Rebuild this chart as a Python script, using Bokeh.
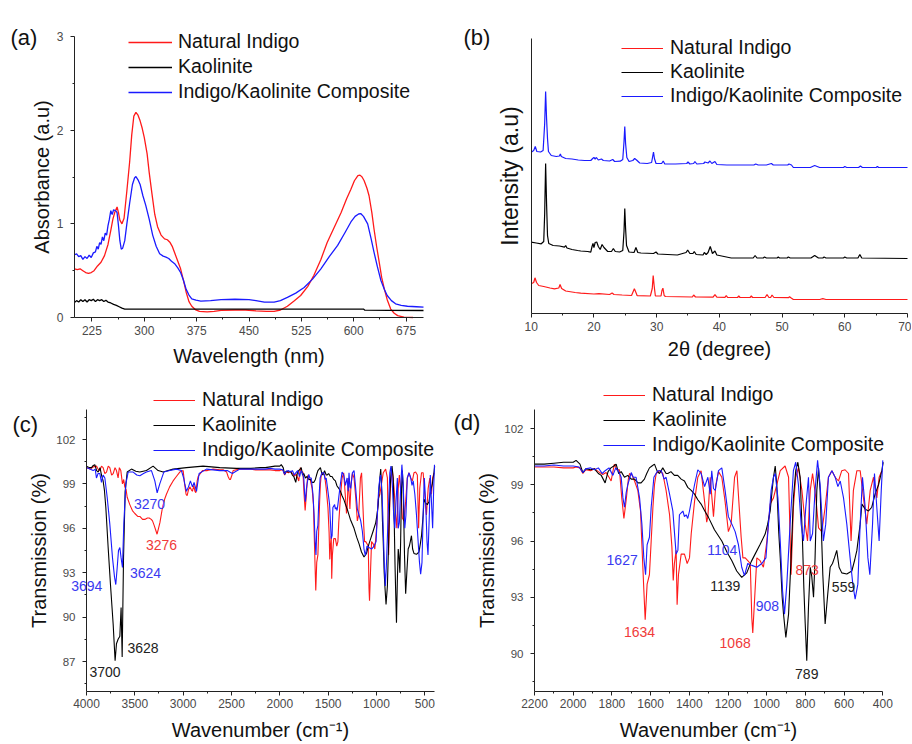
from bokeh.plotting import figure
from bokeh.models import Range1d, FixedTicker, Legend, LegendItem, Label
from bokeh.layouts import column, row
from bokeh.embed import file_html
from bokeh.resources import INLINE

FONT = "Liberation Sans"
RED, BLACK, BLUE = "#ff1a1a", "#000000", "#1a1aff"
series_names = ["Natural Indigo", "Kaolinite", "Indigo/Kaolinite Composite"]

# ---------------- (a) UV-Vis absorbance ----------------
uv_red = [(200,0.52),(204,0.51),(208,0.52),(212,0.50),(216,0.48),(220,0.47),(224,0.48),(228,0.50),(233,0.55),
          (238,0.59),(243,0.66),(248,0.78),(252,0.93),(255,1.05),(258,1.13),(261,1.18),(263,1.12),(265,1.04),
          (268,1.00),(271,1.06),(275,1.35),(279,1.66),(282,1.95),(285,2.15),(288,2.19),(291,2.16),(294,2.10),
          (297,2.02),(300,1.92),(304,1.75),(307,1.55),(311,1.32),(315,1.10),(319,0.97),(324,0.88),(329,0.84),
          (333,0.83),(337,0.80),(340,0.76),(344,0.68),(348,0.60),(352,0.52),(356,0.40),(360,0.27),(364,0.17),
          (368,0.12),(373,0.085),(379,0.065),(390,0.06),(400,0.065),(410,0.075),(430,0.08),(445,0.08),(460,0.07),
          (475,0.065),(486,0.065),(495,0.08),(505,0.12),(515,0.18),(524,0.235),(534,0.33),(543,0.45),(553,0.62),
          (562,0.80),(572,0.96),(582,1.12),(590,1.27),(596,1.37),(601,1.46),(606,1.515),(609,1.52),(612,1.50),
          (615,1.46),(619,1.38),(622,1.30),(626,1.12),(629,0.95),(633,0.75),(637,0.57),(640,0.43),(644,0.30),
          (648,0.19),(653,0.09),(658,0.045),(663,0.02),(672,0.005),(685,0.0)]
uv_black = [(200,0.16),(203,0.18),(206,0.165),(209,0.19),(212,0.17),(215,0.19),(218,0.165),(221,0.19),(224,0.18),
            (227,0.195),(230,0.17),(233,0.19),(236,0.18),(239,0.19),(242,0.17),(245,0.185),(248,0.165),(252,0.155),
            (256,0.14),(260,0.13),(264,0.115),(268,0.10),(272,0.09),(300,0.09),(400,0.09),(500,0.09),(600,0.09),
            (614,0.09),(616,0.078),(650,0.077),(700,0.075)]
uv_blue = [(200,0.67),(203,0.68),(206,0.65),(209,0.66),(212,0.62),(215,0.65),(218,0.63),(221,0.665),(224,0.64),
           (227,0.69),(230,0.70),(232,0.76),(234,0.73),(236,0.80),(238,0.78),(240,0.86),(242,0.82),(244,0.90),
           (246,0.88),(248,0.98),(250,1.05),(252,1.14),(254,1.10),(256,1.15),(259,1.14),(261,1.12),(263,0.98),
           (265,0.82),(267,0.73),(269,0.74),(272,0.82),(275,1.00),(279,1.22),(283,1.42),(286,1.49),(288,1.505),
           (291,1.47),(294,1.42),(298,1.30),(302,1.20),(307,1.05),(312,0.88),(317,0.76),(322,0.68),(327,0.655),
           (331,0.645),(335,0.63),(339,0.60),(344,0.57),(348,0.53),(352,0.48),(356,0.40),(360,0.30),(364,0.24),
           (368,0.20),(374,0.185),(381,0.175),(395,0.18),(410,0.19),(430,0.195),(450,0.19),(460,0.18),(472,0.165),
           (486,0.165),(495,0.18),(505,0.215),(517,0.26),(529,0.32),(541,0.41),(553,0.52),(565,0.65),(577,0.77),
           (587,0.90),(596,1.02),(602,1.08),(607,1.105),(610,1.11),(614,1.08),(617,1.04),(620,1.0),(625,0.84),
           (629,0.70),(634,0.54),(639,0.395),(644,0.30),(648,0.235),(654,0.18),(660,0.146),(668,0.13),(677,0.12),
           (690,0.115),(700,0.11)]
uv_xticks = [225, 300, 375, 450, 525, 600, 675]
uv_yticks = [0, 1, 2, 3]

# ---------------- (b) XRD ----------------
xrd_red = [(10.0,29.7),(10.4,31),(10.6,35.7),(10.85,31),(11.2,28),(12,27),(13,25.5),(13.7,24.7),(14.4,25.5),(14.6,29),
           (14.85,25),(15.5,22.5),(17.0,21),(17.9,20.3),(20,19.5),(20.8,19.8),(22.5,19),(22.9,20.5),(23.2,19),
           (24.5,18.5),(26.0,18),(26.2,21),(26.45,24.7),(26.7,21),(26.9,17.8),(29.0,17.5),(29.3,25),(29.45,38),
           (29.6,28),(29.8,17.5),(30.7,17.5),(30.85,23),(31.0,25.3),(31.2,18),(31.4,17),(35.7,16.5),(35.9,18.5),
           (36.2,16.5),(39.0,16.3),(39.3,18.8),(39.6,16.3),(40.9,16.2),(41.1,18),(41.3,16.2),(42.9,16),(43.1,17.5),
           (43.3,16),(44.9,16),(45.1,17.5),(45.3,16),(47.3,16),(47.6,19),(47.9,16),(48.2,16.2),(48.4,18.5),(48.7,16),
           (51.0,15.8),(51.2,16.8),(51.4,15.8),(51.8,14),(56,14),(56.5,14.8),(57,14),(60,14),(70,14)]
xrd_black = [(10.0,71.3),(10.8,70.5),(11.6,69.7),(12.0,72),(12.15,100),(12.3,150),(12.45,110),(12.6,78),(12.8,70),
             (13.5,68),(14.5,67.5),(15.3,66.3),(15.5,68),(15.7,65.5),(16.5,64),(17.4,63),(17.9,62.5),(19.0,62),
             (19.5,61.3),(19.7,67),(19.85,70),(20.0,66),(20.2,71),(20.45,71.5),(20.7,67),(21.0,64),(21.3,69),
             (21.6,66),(22.2,62),(22.8,62),(23.1,65),(23.4,62),(24.1,61.5),(24.6,63),(24.8,82),(24.92,105),
             (25.05,85),(25.2,68),(25.6,61.5),(26.4,61),(26.7,66),(27.0,61),(27.5,60.5),(29.5,60),(29.9,61.5),
             (30.2,59.5),(33.3,58.5),(34.7,61),(34.95,63.5),(35.3,60),(35.8,60),(36.0,62),(36.3,59),(37.4,58.5),
             (37.6,61),(37.9,59),(38.2,61),(38.55,67),(38.9,60),(39.3,62.5),(39.6,58.5),(41.9,55.5),(45.4,55.5),
             (45.7,58),(46.0,55.5),(47.0,55.5),(47.2,56.5),(47.5,55.5),(49.2,55.5),(49.4,56.5),(49.6,55.5),
             (50.8,55.5),(51.0,56.5),(51.3,55.5),(54.6,55.5),(55.2,58),(55.8,55.5),(56.5,55.5),(56.7,56.5),(57,55.5),
             (59.8,55.5),(60.0,56.5),(60.3,55.5),(62.1,55.5),(62.4,59),(62.7,55.5),(70,55)]
xrd_blue = [(10.0,161.3),(10.4,163),(10.65,167),(10.9,162),(11.5,161.5),(11.9,163),(12.15,190),(12.3,222),(12.45,195),
            (12.6,175),(12.75,162),(13.2,158),(14.0,157),(14.5,157.5),(14.65,159.5),(14.8,157),(15.5,155),(16.5,154.5),
            (17.5,153.5),(18.5,153),(19.5,153),(19.8,155),(20.0,156),(20.2,154.5),(20.4,156),(20.7,153.5),(21.2,154.5),
            (21.5,153),(22.5,152.5),(23.0,154),(23.3,152),(24.2,152.3),(24.6,154),(24.8,172),(24.92,187),(25.05,170),
            (25.25,156),(25.6,152),(26.2,153),(26.5,155),(26.8,153.5),(27.3,150.5),(28.5,150),(29.2,151),(29.4,158),
            (29.5,161.3),(29.65,155),(29.9,150),(30.8,150),(31.05,152.5),(31.3,149.5),(33,149.5),(34.8,150),
            (35.0,151.5),(35.3,149.5),(35.9,150),(36.1,152),(36.4,149.5),(37.5,150),(37.7,151.5),(38.2,150.5),
            (38.5,152.5),(38.8,150),(39.3,152),(39.6,149),(41.2,148.5),(45.5,148.5),(45.8,149.5),(46.2,148.5),
            (47.5,148.5),(48.3,150),(48.6,148.5),(50.9,148.5),(51.1,149.5),(51.5,148.5),(51.8,146),(54.5,146),
            (55.2,148),(56,146),(59.8,146),(60.0,147),(60.3,146),(62.2,146),(62.5,147.5),(62.8,146),(65,146),
            (65.2,147),(65.4,146),(70,146)]
xrd_xticks = [10, 20, 30, 40, 50, 60, 70]

# ---------------- (c)/(d) FTIR transmission ----------------
ir_red = [(4000,100.1),(3960,100.0),(3930,100.15),(3897,100.2),(3880,100.0),(3862,99.9),(3845,100.2),(3828,100.1),
          (3810,99.7),(3793,99.8),(3775,100.2),(3759,100.1),(3740,99.6),(3724,99.7),(3705,100.1),(3690,99.9),
          (3673,99.4),(3660,100.1),(3645,99.9),(3628,99.0),(3615,99.3),(3604,98.8),(3590,98.6),(3579,98.1),
          (3552,97.6),(3525,97.2),(3500,97.0),(3470,96.8),(3448,96.8),(3420,96.6),(3397,96.6),(3370,96.7),
          (3352,96.7),(3330,96.6),(3317,96.5),(3300,96.2),(3285,95.9),(3270,95.6),(3255,96.0),(3240,96.4),
          (3214,97.4),(3190,98.0),(3173,98.3),(3140,98.8),(3104,99.2),(3070,99.5),(3035,99.8),(3000,99.9),
          (2985,99.0),(2970,98.3),(2959,98.2),(2945,98.6),(2931,98.8),(2915,98.6),(2904,98.5),(2890,98.9),
          (2878,98.5),(2869,98.4),(2855,99.2),(2845,99.5),(2800,99.9),(2750,99.9),(2690,100.0),(2620,99.95),
          (2587,99.95),(2550,99.8),(2535,99.5),(2520,99.3),(2511,99.3),(2495,99.6),(2483,99.9),(2420,100.0),
          (2380,100.0),(2300,100.0),(2250,99.95),(2200,99.95),(2150,99.95),(2100,99.95),(2050,99.9),(2000,99.9),
          (1985,99.95),(1965,99.9),(1950,99.6),(1935,99.8),(1910,99.75),(1890,99.85),(1870,99.7),(1847,99.55),
          (1830,99.65),(1815,99.4),(1804,99.2),(1795,99.7),(1787,100.1),(1775,99.8),(1761,99.8),(1749,98.3),
          (1738,97.2),(1726,98.2),(1715,99.3),(1709,99.6),(1695,99.5),(1683,99.2),(1666,98.7),(1652,97.6),
          (1645,95.8),(1635,93.4),(1628,91.8),(1618,93.7),(1606,94.2),(1597,96.0),(1588,97.8),(1580,99.0),
          (1571,99.6),(1554,99.75),(1537,99.6),(1520,98.7),(1502,97.4),(1490,95.7),(1483,93.9),(1477,94.8),
          (1468,95.5),(1463,92.6),(1456,94.2),(1442,95.3),(1425,95.3),(1411,94.8),(1399,95.1),(1390,96.4),
          (1373,98.1),(1356,99.4),(1339,99.75),(1321,98.1),(1310,97.0),(1304,97.3),(1292,99.4),(1275,97.3),
          (1263,99.0),(1249,99.7),(1232,99.4),(1215,98.1),(1198,96.5),(1184,96.9),(1166,99.4),(1154,99.75),
          (1142,97.8),(1132,96.2),(1123,95.1),(1111,95.1),(1098,94.95),(1085,94.8),(1077,91.9),(1072,91.1),
          (1063,92.8),(1051,95.1),(1034,94.95),(1017,94.6),(999,96.0),(982,97.97),(965,98.3),(948,99.0),
          (930,99.75),(905,100.0),(887,99.4),(874,94.2),(862,97.8),(850,99.4),(836,99.9),(818,98.7),(801,96.9),
          (789,96.0),(775,98.7),(763,99.6),(746,98.3),(732,96.7),(715,96.5),(698,97.8),(681,99.4),(663,99.75),
          (646,99.4),(629,99.2),(612,99.75),(595,99.8),(577,99.6),(564,96.0),(552,98.7),(534,99.75),(517,99.75),
          (500,98.3),(483,96.9),(465,98.7),(448,99.4),(431,98.3),(419,99.4),(405,99.75)]
ir_black = [(4000,100.2),(3970,100.1),(3948,100.1),(3930,100.25),(3914,100.3),(3895,99.9),(3879,99.8),(3860,100.1),
            (3845,99.6),(3828,99.2),(3815,98.6),(3800,97.4),(3776,94.7),(3752,92.2),(3724,89.5),(3704,87.05),
            (3690,88.2),(3673,88.5),(3655,88.7),(3642,90.65),(3631,87.3),(3617,94.0),(3600,98.5),(3579,99.8),
            (3535,100.0),(3490,99.85),(3448,99.8),(3380,99.9),(3311,100.2),(3259,99.9),(3207,99.8),(3104,100.0),
            (2966,100.1),(2794,100.2),(2621,100.1),(2449,100.05),(2300,100.05),(2200,100.1),(2150,100.1),
            (2100,100.15),(2050,100.2),(2000,100.2),(1985,100.3),(1965,100.1),(1950,99.65),(1935,99.85),(1910,99.8),
            (1890,99.85),(1870,99.6),(1855,99.5),(1845,99.3),(1835,99.1),(1820,99.7),(1805,99.9),(1790,100.0),
            (1778,100.1),(1765,99.6),(1752,99.7),(1735,99.4),(1718,99.5),(1700,99.3),(1683,99.3),(1665,99.1),
            (1649,99.1),(1632,99.3),(1620,99.6),(1606,99.9),(1593,100.0),(1580,100.1),(1565,99.7),(1554,99.6),
            (1537,99.9),(1520,99.6),(1511,99.6),(1495,99.7),(1477,99.5),(1460,99.5),(1442,99.3),(1425,99.2),
            (1408,98.86),(1390,98.7),(1373,98.5),(1356,98.2),(1339,97.97),(1320,97.6),(1301,97.26),(1270,96.6),
            (1232,96.0),(1205,95.4),(1180,94.95),(1155,94.4),(1129,94.06),(1103,94.3),(1080,94.9),(1060,95.3),
            (1035,95.8),(1008,96.37),(995,96.9),(982,97.6),(972,98.7),(965,99.4),(956,100.0),(948,99.0),(938,96.5),
            (930,95.1),(920,93.0),(913,92.1),(901,90.86),(887,92.1),(874,95.1),(862,98.3),(850,99.75),(839,100.2),
            (827,99.4),(815,96.0),(808,93.5),(801,91.6),(793,89.62),(784,92.5),(775,94.6),(767,94.1),(758,93.0),
            (750,95.1),(741,98.7),(732,99.9),(724,98.7),(717,96.5),(710,94.2),(698,91.58),(686,93.0),(672,94.6),
            (660,94.8),(650,95.1),(638,95.5),(626,94.6),(612,94.3),(586,94.24),(560,94.4),(545,95.0),(534,95.5),
            (517,96.9),(508,97.97),(491,97.7),(474,97.6),(457,97.8),(440,98.5),(422,99.0),(405,99.75),(398,100.2)]
ir_blue = [(4000,100.1),(3965,100.0),(3931,99.9),(3910,100.0),(3897,99.4),(3880,99.7),(3862,99.7),(3845,99.1),
           (3828,99.6),(3810,99.4),(3786,98.1),(3759,96.3),(3731,94.0),(3710,92.7),(3697,92.2),(3683,93.3),
           (3669,94.5),(3655,94.7),(3642,94.0),(3628,93.35),(3614,96.3),(3593,99.0),(3569,99.8),(3517,99.8),
           (3480,99.6),(3448,99.55),(3410,99.7),(3380,99.8),(3328,99.9),(3293,99.2),(3269,98.4),(3242,99.0),
           (3200,99.8),(3138,99.9),(3069,100.0),(3018,99.9),(2995,99.4),(2983,99.0),(2966,98.5),(2945,98.8),
           (2925,99.2),(2904,98.8),(2887,99.1),(2862,98.5),(2835,99.7),(2759,100.0),(2621,99.9),(2540,99.9),
           (2518,99.8),(2490,99.7),(2466,99.8),(2414,100.0),(2300,100.0),(2200,100.0),(2150,100.0),(2100,100.05),
           (2050,100.0),(2000,100.0),(1970,99.95),(1950,99.65),(1935,99.85),(1910,99.9),(1890,99.8),(1870,99.9),
           (1850,99.6),(1835,99.75),(1815,99.9),(1795,99.5),(1780,99.9),(1765,99.7),(1752,99.4),(1743,98.3),
           (1735,97.8),(1726,98.6),(1718,99.0),(1700,99.65),(1690,99.4),(1675,99.4),(1657,98.3),(1645,96.9),
           (1635,95.1),(1626,94.2),(1618,95.8),(1606,96.2),(1597,97.8),(1583,99.4),(1563,99.75),(1545,99.75),
           (1530,99.3),(1520,99.4),(1502,98.5),(1485,97.6),(1477,96.5),(1468,95.3),(1459,95.5),(1451,97.4),
           (1442,97.5),(1433,97.6),(1425,97.3),(1416,97.4),(1408,97.2),(1399,97.6),(1390,98.1),(1373,99.0),
           (1356,99.8),(1339,99.6),(1321,98.9),(1304,99.4),(1292,98.5),(1284,99.75),(1275,98.8),(1266,98.7),
           (1249,99.75),(1232,99.9),(1215,98.7),(1198,97.3),(1180,96.9),(1163,96.5),(1146,95.8),(1129,94.6),
           (1115,94.15),(1098,94.8),(1077,94.7),(1051,94.6),(1025,94.8),(1004,95.1),(991,96.9),(977,98.7),
           (965,99.4),(956,99.6),(942,98.3),(930,96.0),(918,93.35),(908,92.1),(896,93.7),(879,96.9),(862,99.75),
           (850,100.2),(836,99.0),(822,96.9),(810,96.0),(798,97.8),(784,99.4),(775,96.0),(763,96.4),(750,98.7),
           (737,100.3),(724,99.0),(707,96.0),(695,96.9),(681,99.4),(663,99.75),(646,99.4),(632,98.9),(620,99.2),
           (603,98.3),(586,96.9),(569,95.1),(555,93.7),(543,92.9),(529,93.7),(517,96.9),(505,99.4),(491,97.8),
           (477,95.1),(467,94.2),(453,96.9),(443,99.6),(431,97.8),(419,96.0),(408,98.7),(400,100.3)]
c_xticks = [4000, 3500, 3000, 2500, 2000, 1500, 1000, 500]
c_yticks = [87, 90, 93, 96, 99, 102]
d_xticks = [2200, 2000, 1800, 1600, 1400, 1200, 1000, 800, 600, 400]
d_yticks = [90, 93, 96, 99, 102]

# peak annotations: (text, wavenumber, transmission, series index)
c_peaks = [("3270", 3348, 97.63, 2), ("3276", 3224, 94.9, 0), ("3624", 3390, 92.95, 2),
           ("3694", 3997, 92.1, 2), ("3628", 3416, 87.88, 1), ("3700", 3809, 86.3, 1)]
d_peaks = [("1627", 1747, 94.98, 2), ("1634", 1657, 91.17, 0), ("1104", 1230, 95.52, 2),
           ("1139", 1214, 93.62, 1), ("1068", 1163, 90.56, 0), ("908", 996, 92.52, 2),
           ("873", 791, 94.47, 0), ("559", 603, 93.53, 1), ("789", 793, 88.91, 1)]
label_colors = ["#f03a3a", "#222222", "#3a3af0"]


def unzip(pairs):
    return [a for a, _ in pairs], [b for _, b in pairs]


def fit_range(v1, p1, v2, p2, size):
    """Range such that value v1 sits p1 px and v2 sits p2 px from the frame start."""
    k = (p2 - p1) / (v2 - v1)
    start = v1 - p1 / k
    return Range1d(start, start + size / k)


def make_fig(w, h, xcal, ycal, xbounds, ybounds):
    # frame fills the whole figure; axes are drawn inside at fixed data locations
    xr = fit_range(xcal[0], xcal[1], xcal[2], xcal[3], w)
    yr = fit_range(ycal[0], h - ycal[1], ycal[2], h - ycal[3], h)
    p = figure(width=w, height=h, x_range=xr, y_range=yr, output_backend="svg",
               toolbar_location=None, min_border=0)
    p.xgrid.visible = False
    p.ygrid.visible = False
    p.outline_line_color = None
    p.xaxis.fixed_location = ybounds[0]
    p.yaxis.fixed_location = xbounds[0]
    p.xaxis.bounds = xbounds
    p.yaxis.bounds = ybounds
    for ax in (p.xaxis[0], p.yaxis[0]):
        ax.axis_line_color = "#222222"
        ax.major_tick_line_color = "#222222"
        ax.minor_tick_line_color = "#222222"
        ax.major_tick_out = 4
        ax.major_tick_in = 0
        ax.minor_tick_out = 2
        ax.minor_tick_in = 0
        ax.major_label_text_font = FONT
        ax.major_label_text_font_size = "12px"
        ax.major_label_text_color = "#4a4a4a"
        ax.axis_label_text_font = FONT
        ax.axis_label_text_font_style = "normal"
        ax.axis_label_text_color = "#111111"
        ax.axis_label_text_font_size = "20px"
    return p


def add_series(p, data, lw):
    rs = []
    for pairs, col in zip(data, [RED, BLACK, BLUE]):
        x, y = unzip(pairs)
        rs.append(p.line(x, y, line_color=col, line_width=lw))
    return rs


def add_legend(p, rs, loc, glyph_w, standoff, spacing):
    items = [LegendItem(label=n, renderers=[r]) for n, r in zip(series_names, rs)]
    lg = Legend(items=items, location=loc, orientation="vertical", glyph_width=glyph_w,
                glyph_height=22, label_height=22, label_standoff=standoff, spacing=spacing,
                padding=0, margin=0, border_line_color=None, background_fill_alpha=0,
                label_text_font=FONT, label_text_font_size="19.5px", label_text_color="#111111")
    p.add_layout(lg)


def panel_tag(p, text, x, y):
    p.add_layout(Label(x=x, y=y, x_units="screen", y_units="screen", text=text,
                       text_font=FONT, text_font_size="22px", text_color="#111111",
                       text_baseline="alphabetic"))


def minor_between(ticks, lo, hi):
    step = ticks[1] - ticks[0]
    vals = []
    t = ticks[0] - step / 2.0
    for _ in range(len(ticks) + 2):
        if min(lo, hi) <= t <= max(lo, hi):
            vals.append(t)
        t += step
    return vals


# (a)  figure at page (0,0), 450 x 370
pa = make_fig(450, 370, (200, 74, 700, 423), (0, 317, 3, 36), (200, 700), (0, 3))
rs = add_series(pa, [uv_red, uv_black, uv_blue], 1.3)
pa.xaxis.ticker = FixedTicker(ticks=uv_xticks, minor_ticks=minor_between(uv_xticks, 200, 700))
pa.yaxis.ticker = FixedTicker(ticks=uv_yticks, minor_ticks=minor_between(uv_yticks, 0, 3))
pa.xaxis.axis_label = "Wavelength (nm)"
pa.yaxis.axis_label = "Absorbance (a.u)"
pa.xaxis.major_label_standoff = 4
pa.xaxis.axis_label_standoff = 7
pa.yaxis.major_label_standoff = 7
pa.yaxis.axis_label_standoff = 1
add_legend(pa, rs, (128, 267), 44, 6, 2)
panel_tag(pa, "(a)", 10, 333)

# (b)  figure at page (450,0), 461 x 370
pb = make_fig(461, 370, (10, 80.7, 70, 457), (0, 313, 275, 38), (10, 70), (0, 275))
rs = add_series(pb, [xrd_red, xrd_black, xrd_blue], 1.2)
pb.xaxis.ticker = FixedTicker(ticks=xrd_xticks, minor_ticks=minor_between(xrd_xticks, 10, 70))
pb.yaxis.ticker = FixedTicker(ticks=[])
pb.yaxis.major_tick_out = 0
pb.yaxis.minor_tick_out = 0
pb.yaxis.major_label_standoff = 0
pb.yaxis.axis_label_standoff = 9
pb.yaxis.axis_label_text_font_size = "23px"
pb.xaxis.axis_label = "2θ (degree)"
pb.yaxis.axis_label = "Intensity (a.u)"
pb.xaxis.major_label_standoff = 4
pb.xaxis.axis_label_standoff = 4
add_legend(pb, rs, (171, 263), 42, 7, 1)
panel_tag(pb, "(b)", 13, 333)

# (c)  figure at page (0,370), 450 x 373
pc = make_fig(450, 373, (4000, 86, 500, 424.3), (87, 291, 102, 69), (4000, 400), (85, 104))
rs = add_series(pc, [ir_red, ir_black, ir_blue], 1.1)
pc.xaxis.ticker = FixedTicker(ticks=c_xticks, minor_ticks=minor_between(c_xticks, 4000, 400))
pc.yaxis.ticker = FixedTicker(ticks=c_yticks, minor_ticks=minor_between(c_yticks, 85, 104))
pc.xaxis.axis_label = "Wavenumber (cm⁻¹)"
pc.yaxis.axis_label = "Transmission (%)"
pc.yaxis.major_label_text_font_size = "11.5px"
pc.xaxis.major_label_standoff = 4
pc.xaxis.axis_label_standoff = 7
pc.yaxis.major_label_standoff = 7
pc.yaxis.axis_label_standoff = 3
add_legend(pc, rs, (153, 282), 42, 7, 2)
panel_tag(pc, "(c)", 12, 319)
for txt, xv, yv, si in c_peaks:
    pc.add_layout(Label(x=xv, y=yv, text=txt, text_align="center", text_baseline="middle",
                        text_font=FONT, text_font_size="14px", text_color=label_colors[si]))

# (d)  figure at page (450,370), 461 x 373 -- zoomed view of the same spectra
d_xmax = d_xticks[0]
pd_ = make_fig(461, 373, (2200, 84, 400, 432.3), (90, 283, 102, 58), (2200, 400), (88, 103))
rs = add_series(pd_, [[pt for pt in s if pt[0] <= d_xmax] for s in (ir_red, ir_black, ir_blue)], 1.1)
pd_.xaxis.ticker = FixedTicker(ticks=d_xticks, minor_ticks=minor_between(d_xticks, 2200, 400))
pd_.yaxis.ticker = FixedTicker(ticks=d_yticks, minor_ticks=minor_between(d_yticks, 88, 103))
pd_.xaxis.axis_label = "Wavenumber (cm⁻¹)"
pd_.yaxis.axis_label = "Transmission (%)"
pd_.yaxis.major_label_text_font_size = "11.5px"
pd_.xaxis.major_label_standoff = 4
pd_.xaxis.axis_label_standoff = 7
pd_.yaxis.major_label_standoff = 7
pd_.yaxis.axis_label_standoff = 3
add_legend(pd_, rs, (153, 287), 42, 7, 2)
panel_tag(pd_, "(d)", 3, 321)
for txt, xv, yv, si in d_peaks:
    pd_.add_layout(Label(x=xv, y=yv, text=txt, text_align="center", text_baseline="middle",
                         text_font=FONT, text_font_size="14px", text_color=label_colors[si]))

layout = column(row(pa, pb), row(pc, pd_))
open("out.html", "w").write(file_html(layout, INLINE))
